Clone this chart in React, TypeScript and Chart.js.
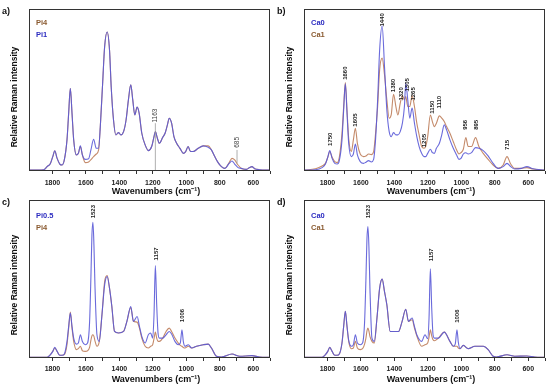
import { useEffect, useRef } from 'react';
import { Chart, registerables } from 'chart.js';
Chart.register(...registerables);

// ---------- Panel a ----------
const WAVE_A = [1935,1852,1832,1812,1798,1786,1772,1756,1742,1729,1713,1703,1693,1683,1673,1657,1645,1633,1621,1604,1584,1570,1554,1538,1524,1514,1500,1488,1473,1459,1449,1435,1421,1405,1391,1375,1360,1346,1332,1320,1308,1294,1282,1266,1246,1227,1207,1193,1185,1173,1161,1141,1127,1113,1102,1088,1074,1058,1038,1018,1004,989,975,959,929,899,869,850,830,810,790,770,744,727,711,691,671,641,622,608,592,562,502];
const PI4_A = [0.6,0.8,2.7,4.7,8.9,12.4,7.8,4.3,3.7,6.8,19.2,35.7,51.1,35.7,19.2,9.9,10.9,15.1,9.9,5.2,5.6,7.0,8.9,10.5,13.0,27.4,54.2,76.9,85.8,74.8,52.2,31.5,22.3,23.7,22.3,24.3,31.5,43.9,53.2,43.9,34.6,39.4,35.7,23.3,16.1,12.6,15.1,21.2,24.3,20.2,17.1,20.8,23.3,28.5,32.6,29.5,21.2,17.1,14.0,10.9,12.0,15.1,12.0,12.0,14.0,15.5,15.5,13.0,8.9,5.2,2.7,1.6,5.2,7.8,6.8,3.7,1.6,1.0,2.1,2.7,1.4,0.8,0.6];
const PI1_A = [0.6,0.8,2.7,4.7,8.9,12.4,7.8,4.3,3.7,6.8,19.2,35.7,51.1,35.7,19.2,9.9,10.9,15.5,9.9,7.2,7.6,13.0,19.6,14.0,14.0,27.4,54.2,76.9,85.8,74.8,52.2,31.5,22.3,23.7,22.3,24.3,31.5,43.9,53.2,43.9,34.6,39.4,35.7,23.3,16.1,12.6,15.1,21.2,24.3,20.2,17.1,20.8,23.3,28.5,32.6,29.5,21.2,17.1,14.0,10.9,12.0,15.1,12.0,12.0,14.0,15.5,14.6,13.0,8.9,5.2,2.7,1.6,4.7,6.2,4.3,2.1,1.6,1.0,2.1,2.7,1.4,0.8,0.6];
const ANN_A_TEXT = ['1163', '685'];
const ANN_A_WAVE = [1185, 697];
const ANN_A_Y = [34.2, 17.7];
const LINE_A_Y0 = [29.5, 13.0];
const LINE_A_Y1 = [0.6, 4.7];

// ---------- Panel b ----------
const WAVE_B = [1935,1871,1832,1812,1798,1786,1772,1756,1742,1729,1713,1703,1693,1683,1673,1657,1645,1633,1621,1604,1584,1570,1554,1538,1524,1514,1500,1488,1473,1459,1445,1431,1419,1405,1391,1379,1365,1352,1340,1332,1320,1308,1294,1280,1266,1252,1237,1223,1213,1201,1185,1173,1161,1149,1131,1117,1102,1088,1068,1048,1028,1014,1002,988,973,959,939,915,895,869,840,810,780,750,727,705,681,641,608,572,502];
const CA0_B = [0.6,0.8,2.1,4.3,8.5,12.6,7.8,4.7,4.3,6.4,19.2,37.7,53.8,35.7,17.1,8.9,10.5,16.7,9.9,5.8,4.7,5.4,6.4,5.6,7.2,17.1,43.9,74.8,89.7,64.5,37.7,24.3,21.2,23.7,22.3,22.3,24.3,29.5,39.8,54.2,43.9,32.6,38.8,29.5,21.2,15.1,10.9,8.9,8.9,10.9,13.4,11.3,10.9,14.0,17.1,22.3,28.5,25.4,19.2,14.0,9.9,7.2,7.8,10.5,11.3,10.5,11.3,14.4,14.0,12.6,9.3,4.7,1.6,2.7,4.7,2.7,1.2,1.6,2.7,1.4,0.6];
const CA1_B = [0.6,1.4,3.1,4.7,8.5,12.0,8.5,5.8,5.2,8.5,23.3,39.8,54.6,37.7,20.2,12.0,19.2,26.4,17.1,10.5,8.9,9.3,10.5,10.1,12.0,21.2,39.8,62.5,69.7,59.4,43.9,32.6,34.6,47.4,39.8,34.6,41.9,46.6,43.9,46.0,39.8,39.8,46.4,39.8,29.5,22.3,15.1,14.0,15.1,21.2,34.6,30.5,27.4,29.5,34.0,32.6,30.5,27.4,23.3,18.1,13.0,10.5,11.3,13.4,20.6,15.1,15.1,20.6,15.1,10.9,7.2,3.7,1.6,3.7,8.9,4.3,1.6,1.6,2.1,1.2,0.6];
const ANN_B_TEXT = ['1750','1660','1605','1440','1380','1320','1305','1265','1205','1150','1110','956','895','715'];
const ANN_B_WAVE = [1782,1693,1633,1473,1405,1356,1324,1286,1223,1173,1131,973,913,727];
const ANN_B_Y = [19.6,60.4,31.5,93.3,52.8,47.6,53.2,47.6,18.8,39.4,42.5,28.5,28.5,16.1];

// ---------- Panel c ----------
const WAVE_C = [1935,1832,1812,1798,1786,1772,1756,1742,1729,1713,1703,1693,1683,1673,1657,1645,1633,1621,1604,1590,1578,1570,1564,1558,1552,1546,1534,1520,1504,1488,1473,1459,1445,1429,1405,1375,1355,1332,1316,1294,1280,1266,1246,1227,1213,1201,1193,1185,1177,1169,1161,1141,1121,1102,1088,1068,1048,1036,1026,1018,1008,988,968,939,899,869,850,820,790,727,681,608,562,502];
const PI05_C = [0.4,0.4,2.1,4.2,6.7,4.2,1.7,1.7,2.5,10.5,20.0,28.4,20.0,12.6,8.8,9.5,14.7,10.5,8.4,9.5,22.7,51.6,77.9,85.9,71.6,46.3,14.7,10.5,27.4,46.3,51.6,44.2,32.6,16.8,15.8,16.8,23.2,32.6,23.2,26.3,20.0,13.7,9.5,14.7,15.8,12.6,27.4,58.5,33.7,15.8,12.6,12.6,14.7,16.8,15.2,10.5,8.4,9.5,17.9,10.5,7.4,8.4,6.3,7.4,8.4,8.8,6.3,1.1,0.6,2.5,1.1,1.5,0.6,0.4];
const PI4_C = [0.4,0.4,2.1,4.2,6.3,4.2,1.7,1.7,2.1,8.4,18.9,29.1,18.9,10.5,5.3,5.9,7.4,4.6,4.2,4.6,6.7,11.3,14.0,14.7,13.7,10.9,7.4,10.5,27.4,48.4,52.2,44.2,32.6,16.8,15.8,16.8,23.2,32.0,23.2,22.7,18.9,12.6,7.4,6.3,7.4,8.4,12.2,16.4,12.6,10.5,10.5,12.6,16.8,18.9,16.8,12.6,9.5,8.0,7.4,6.7,6.3,7.4,6.3,7.4,8.4,8.8,6.3,1.1,0.6,2.5,1.1,1.5,0.6,0.4];
const ANN_C_TEXT = ['1523','1157','1006'];
const ANN_C_WAVE = [1554,1181,1026];
const ANN_C_Y = [92.6,65.9,26.9];

// ---------- Panel d ----------
const WAVE_D = [1935,1832,1812,1798,1786,1772,1756,1742,1729,1713,1703,1693,1683,1673,1657,1645,1633,1621,1604,1590,1578,1570,1564,1558,1552,1546,1534,1520,1504,1488,1473,1459,1445,1425,1405,1375,1355,1332,1316,1294,1280,1266,1237,1217,1201,1193,1185,1177,1169,1161,1137,1102,1068,1048,1036,1026,1018,1008,988,959,919,869,840,810,790,727,681,608,562,502];
const CA0_D = [0.4,0.4,2.1,4.2,6.7,4.2,1.7,1.7,2.5,9.5,20.0,29.5,20.0,11.3,7.4,8.4,14.7,9.5,8.4,9.5,22.7,49.9,75.0,83.2,70.0,44.2,12.6,10.5,25.3,44.2,49.9,42.0,33.7,16.8,16.8,16.8,22.7,30.9,23.2,25.3,20.0,14.7,10.5,14.7,12.2,25.0,56.4,32.0,14.7,12.6,12.6,16.4,10.5,7.4,9.0,17.9,10.0,5.9,8.0,5.9,7.4,7.4,5.3,1.1,0.6,2.1,1.1,1.3,0.6,0.4];
const CA1_D = [0.4,0.4,2.1,4.2,6.7,4.2,1.7,1.7,2.5,9.5,20.0,29.5,20.0,10.5,5.9,6.3,10.5,6.3,5.3,5.9,8.8,12.6,17.0,18.9,17.0,13.7,10.5,9.5,25.3,44.2,49.9,42.0,33.7,16.8,16.8,16.8,22.7,30.9,23.2,24.2,19.0,14.0,7.4,8.4,9.5,13.0,17.9,14.0,11.5,10.9,12.6,16.4,10.5,7.4,7.4,7.4,6.3,5.9,8.0,5.9,7.4,7.4,5.3,1.1,0.6,2.1,1.1,1.3,0.6,0.4];
const ANN_D_TEXT = ['1523','1157','1006'];
const ANN_D_WAVE = [1554,1181,1026];
const ANN_D_Y = [92.6,65.3,26.5];

// ---------- Axis ----------
const X_TICK_LABELS = [1800, 1600, 1400, 1200, 1000, 800, 600];
const X_MIN = 500;
const X_MAX = 1940;

const BLUE = 'rgba(90,90,215,0.9)';
const BROWN = 'rgba(190,125,90,0.9)';
const BLUE_TXT = '#2c2cc0';
const BROWN_TXT = '#8a5a30';
const FONT = '"Liberation Sans", Arial, sans-serif';

type Series = { name: string; values: number[]; color: string; text: string };
type PanelProps = {
  left: number; top: number; isTop: boolean; letter: string;
  waves: number[]; legend: Series[]; onTop: Series; below: Series;
  annText: string[]; annWave: number[]; annY: number[]; annBold: boolean;
  lineY0?: number[]; lineY1?: number[];
};

function Panel(p: PanelProps) {
  const ref = useRef<HTMLCanvasElement>(null);
  useEffect(() => {
    if (!ref.current) return;
    const padTop = p.isTop ? 9 : 8;
    const xH = p.isTop ? 26 : 31;
    const overlay = {
      id: 'overlay',
      afterDraw(chart: any) {
        const ctx = chart.ctx as CanvasRenderingContext2D;
        const a = chart.chartArea;
        const xs = chart.scales.x, ys = chart.scales.y;
        ctx.save();
        ctx.strokeStyle = '#333';
        ctx.lineWidth = 1;
        ctx.strokeRect(Math.round(a.left) + 0.5, Math.round(a.top) + 0.5, Math.round(a.right - a.left) - 1, Math.round(a.bottom - a.top) - 1);
        if (p.lineY0 && p.lineY1) {
          ctx.strokeStyle = '#9a9a9a';
          ctx.lineWidth = 0.8;
          p.lineY0.forEach((y0, i) => {
            const x = xs.getPixelForValue(p.annWave[i]);
            ctx.beginPath();
            ctx.moveTo(x, ys.getPixelForValue(y0));
            ctx.lineTo(x, ys.getPixelForValue(p.lineY1![i]));
            ctx.stroke();
          });
        }
        ctx.fillStyle = p.annBold ? '#1a1a1a' : '#444';
        ctx.font = (p.annBold ? 'bold 6px ' : '6.5px ') + FONT;
        ctx.textAlign = 'center';
        ctx.textBaseline = 'middle';
        p.annText.forEach((t, i) => {
          const x = xs.getPixelForValue(p.annWave[i]);
          const y = ys.getPixelForValue(p.annY[i]);
          ctx.save();
          ctx.translate(x, y);
          ctx.rotate(-Math.PI / 2);
          ctx.fillText(t, 0, 0);
          ctx.restore();
        });
        ctx.fillStyle = '#111';
        ctx.font = 'bold 9px ' + FONT;
        ctx.textAlign = 'left';
        ctx.fillText(p.letter, 2, p.isTop ? 12 : 11);
        ctx.font = 'bold 7.5px ' + FONT;
        p.legend.forEach((s, i) => {
          ctx.fillStyle = s.text;
          ctx.fillText(s.name, 36, (p.isTop ? 23 : 24) + i * 12);
        });
        ctx.fillStyle = '#111';
        ctx.font = 'bold 9px ' + FONT;
        ctx.textAlign = 'center';
        ctx.fillText('Wavenumbers (cm\u207B\u00B9)', 156, p.isTop ? 192 : 188);
        ctx.save();
        ctx.translate(15, p.isTop ? 97 : 93);
        ctx.rotate(-Math.PI / 2);
        ctx.font = 'bold 8.5px ' + FONT;
        ctx.fillText('Relative Raman intensity', 0, 0);
        ctx.restore();
        ctx.restore();
      },
    };
    const mk = (s: Series) => ({
      label: s.name,
      data: p.waves.map((w, i) => ({ x: w, y: s.values[i] })),
      borderColor: s.color,
      borderWidth: 1.1,
      pointRadius: 0,
      fill: false,
      cubicInterpolationMode: 'monotone' as const,
    });
    const chart = new Chart(ref.current, {
      type: 'line',
      data: { datasets: [mk(p.onTop), mk(p.below)] },
      options: {
        responsive: false,
        animation: false,
        devicePixelRatio: 1,
        layout: { padding: { left: 29, right: 5, top: padTop, bottom: 0 } },
        plugins: { legend: { display: false }, tooltip: { enabled: false } },
        scales: {
          x: {
            type: 'linear',
            min: X_MIN,
            max: X_MAX,
            reverse: true,
            afterBuildTicks: (s: any) => { s.ticks = s.ticks.filter((t: any) => t.value % 100 === 0); },
            afterFit: (s: any) => { s.height = xH; },
            ticks: {
              stepSize: 100,
              autoSkip: false,
              maxRotation: 0,
              padding: p.isTop ? 5 : 4,
              color: '#222',
              font: { family: FONT, size: 7, weight: 'bold' },
              callback: (v: any) => (X_TICK_LABELS.includes(Number(v)) ? String(v) : ''),
            },
            grid: { drawOnChartArea: false, drawTicks: true, tickLength: 3, color: '#333' },
            border: { display: false },
          },
          y: { display: false, min: 0, max: 100 },
        },
      },
      plugins: [overlay],
    });
    return () => chart.destroy();
  }, []);
  return (
    <canvas
      ref={ref}
      width={275}
      height={197}
      style={{ position: 'absolute', left: p.left, top: p.top, width: 275, height: 197 }}
    />
  );
}

export default function App() {
  const a4: Series = { name: 'Pi4', values: PI4_A, color: BROWN, text: BROWN_TXT };
  const a1: Series = { name: 'Pi1', values: PI1_A, color: BLUE, text: BLUE_TXT };
  const b0: Series = { name: 'Ca0', values: CA0_B, color: BLUE, text: BLUE_TXT };
  const b1: Series = { name: 'Ca1', values: CA1_B, color: BROWN, text: BROWN_TXT };
  const c05: Series = { name: 'Pi0.5', values: PI05_C, color: BLUE, text: BLUE_TXT };
  const c4: Series = { name: 'Pi4', values: PI4_C, color: BROWN, text: BROWN_TXT };
  const d0: Series = { name: 'Ca0', values: CA0_D, color: BLUE, text: BLUE_TXT };
  const d1: Series = { name: 'Ca1', values: CA1_D, color: BROWN, text: BROWN_TXT };
  return (
    <div style={{ position: 'absolute', left: 0, top: 0, width: 550, height: 389, background: '#fff', overflow: 'hidden' }}>
      <Panel left={0} top={0} isTop letter="a)" waves={WAVE_A} legend={[a4, a1]} onTop={a1} below={a4}
        annText={ANN_A_TEXT} annWave={ANN_A_WAVE} annY={ANN_A_Y} annBold={false} lineY0={LINE_A_Y0} lineY1={LINE_A_Y1} />
      <Panel left={275} top={0} isTop letter="b)" waves={WAVE_B} legend={[b0, b1]} onTop={b0} below={b1}
        annText={ANN_B_TEXT} annWave={ANN_B_WAVE} annY={ANN_B_Y} annBold />
      <Panel left={0} top={192} isTop={false} letter="c)" waves={WAVE_C} legend={[c05, c4]} onTop={c05} below={c4}
        annText={ANN_C_TEXT} annWave={ANN_C_WAVE} annY={ANN_C_Y} annBold />
      <Panel left={275} top={192} isTop={false} letter="d)" waves={WAVE_D} legend={[d0, d1]} onTop={d0} below={d1}
        annText={ANN_D_TEXT} annWave={ANN_D_WAVE} annY={ANN_D_Y} annBold />
    </div>
  );
}
